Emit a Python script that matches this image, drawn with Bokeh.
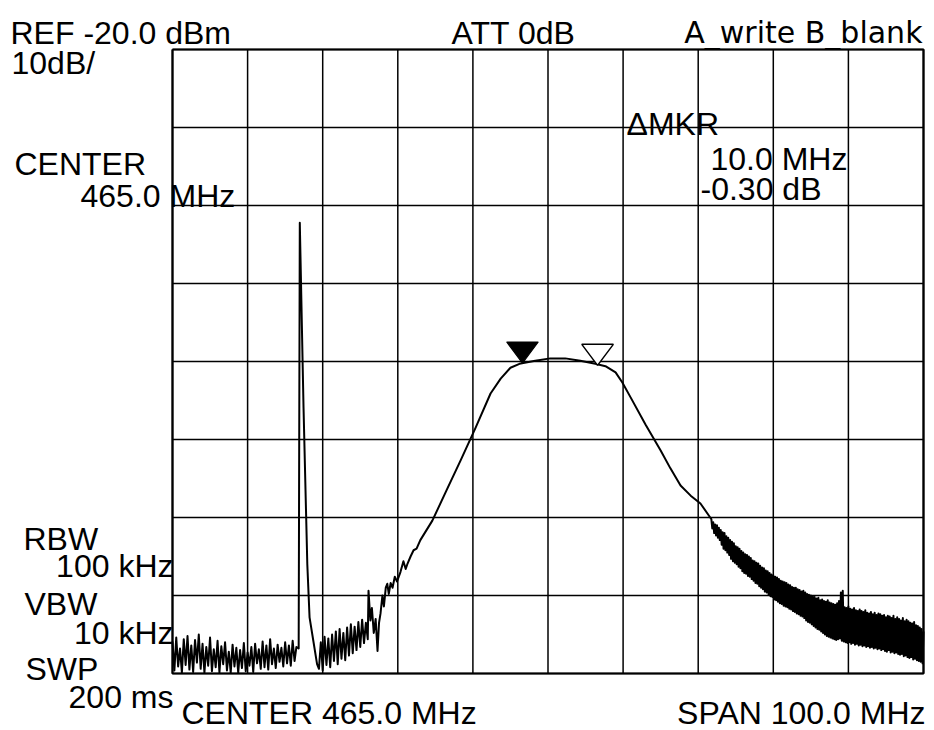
import numpy as np
from bokeh.plotting import figure
from bokeh.models import Label, Range1d
from bokeh.embed import file_html
from bokeh.resources import INLINE

# ---------------- axis settings (CENTER 465.0 MHz, SPAN 100.0 MHz, REF -20 dBm, 10 dB/div)
f_start, f_stop = 415.0, 515.0
ref_level, bottom_level = -20.0, -100.0
x_ticks = [415, 425, 435, 445, 455, 465, 475, 485, 495, 505, 515]
y_ticks = [-100, -90, -80, -70, -60, -50, -40, -30, -20]

# ---------------- trace data (MHz, dBm)
step = 0.25
noise_left_start = 415.0
noise_left = [
    -95.9, -99.6, -95.4, -99.1, -96.8, -99.9, -95.6, -98.9, -95.2, -99.5,
    -96.4, -99.8, -95.7, -98.6, -95.0, -99.4, -96.2, -99.9, -96.6, -99.0,
    -95.4, -99.7, -96.9, -99.2, -95.8, -99.9, -96.5, -98.8, -96.0, -99.6,
    -97.2, -99.9, -96.3, -99.1, -96.7, -99.9, -97.0, -99.3, -96.1, -99.7,
    -97.3, -99.0, -96.6, -99.8, -96.2, -98.7, -96.9, -99.4, -95.9, -99.2,
    -96.4, -99.5, -95.6, -98.8, -96.8, -99.3, -96.3, -98.5, -96.7, -99.1,
    -96.0, -98.7, -96.4, -99.0, -95.8, -98.4, -96.6,
]

spike_freq = [431.8, 431.95, 432.45, 432.95, 433.25, 433.75, 434.25]
spike_level = [-96.8, -42.2, -66.0, -86.0, -92.8, -95.8, -98.8]

noise_mid_start = 434.5
noise_mid = [
    -99.4, -96.0, -99.6, -95.3, -98.9, -95.5, -99.2, -95.0, -98.4, -94.6,
    -98.8, -94.3, -98.1, -94.8, -98.3, -94.1, -97.7, -93.7, -97.4, -94.0,
    -97.0, -93.4, -96.6, -93.1, -96.1, -93.5, -95.6,
]

filter_freq = [
    441.1, 441.35, 441.55, 441.8, 442.05, 442.3, 442.5, 442.7, 442.95, 443.15,
    443.4, 443.6, 443.8, 444.05, 444.3, 444.6, 444.9, 445.35, 445.75, 446.05,
    446.3, 446.7, 447.1, 447.5, 448.0, 449.6, 451.5, 453.35, 455.35, 457.35,
    458.7, 460.0, 461.2, 463.3, 465.3, 467.3, 469.3, 471.3, 472.65, 474.0,
    474.9, 476.0, 478.0, 480.0, 481.3, 482.65, 484.0, 485.3, 486.6,
]
filter_level = [
    -89.4, -93.2, -91.6, -94.8, -93.0, -97.1, -93.5, -92.3, -90.0, -91.4,
    -89.0, -88.5, -89.8, -88.4, -89.0, -87.6, -88.2, -87.0, -85.6, -86.6,
    -85.9, -85.0, -84.2, -84.0, -82.9, -80.4, -76.5, -72.7, -68.5, -64.1,
    -62.2, -60.8, -60.3, -59.9, -59.6, -59.6, -59.9, -60.3, -60.6, -61.4,
    -62.7, -64.6, -68.1, -71.4, -73.7, -75.9, -77.2, -78.2, -80.0,
]

step_fine = 0.125
noise_right_start = 486.75
noise_right = [
    -80.2, -81.4, -80.6, -82.0, -80.9, -82.3, -81.0, -82.6, -81.3, -82.9,
    -81.6, -83.5, -81.9, -84.0, -82.0, -84.2, -82.4, -84.5, -82.6, -84.8,
    -82.9, -85.3, -83.1, -85.6, -83.3, -85.8, -83.7, -86.0, -83.8, -86.3,
    -84.0, -86.5, -84.3, -86.9, -84.5, -87.1, -84.7, -87.2, -84.8, -87.5,
    -85.0, -87.6, -85.2, -87.9, -85.5, -88.1, -85.6, -88.4, -85.8, -88.5,
    -85.9, -88.8, -86.2, -89.0, -86.4, -89.2, -86.5, -89.5, -86.8, -89.6,
    -86.9, -89.9, -87.1, -90.1, -87.3, -90.2, -87.4, -90.5, -87.6, -90.6,
    -87.7, -90.8, -87.9, -91.0, -88.1, -91.1, -88.2, -91.3, -88.3, -91.4,
    -88.4, -91.5, -88.6, -91.7, -88.7, -91.8, -88.9, -92.0, -89.0, -92.1,
    -89.0, -92.3, -89.2, -92.4, -89.3, -92.6, -89.5, -92.7, -89.4, -92.9,
    -89.6, -93.2, -89.8, -93.4, -89.9, -93.5, -90.0, -93.7, -90.1, -93.9,
    -90.2, -94.1, -90.4, -94.3, -90.3, -94.4, -90.6, -94.6, -90.5, -94.8,
    -90.7, -95.0, -90.8, -95.2, -90.6, -95.3, -90.9, -95.4, -91.0, -95.5,
    -91.1, -95.6, -91.2, -95.7, -91.0, -95.6, -90.7, -95.5, -89.6, -95.8,
    -89.4, -95.9, -91.5, -96.0, -91.6, -96.1, -91.4, -96.0, -91.7, -96.2,
    -91.8, -96.1, -91.6, -96.3, -91.9, -96.2, -92.0, -96.4, -91.8, -96.3,
    -92.0, -96.5, -92.1, -96.4, -91.9, -96.6, -92.2, -96.5, -92.3, -96.7,
    -92.1, -96.6, -92.4, -96.8, -92.2, -96.7, -92.5, -96.9, -92.3, -96.8,
    -92.4, -97.0, -92.6, -96.9, -92.5, -97.1, -92.8, -97.2, -92.6, -97.0,
    -92.7, -97.3, -92.9, -97.2, -92.6, -97.4, -93.0, -97.3, -92.8, -97.5,
    -93.0, -97.6, -93.2, -97.5, -92.9, -97.8, -93.3, -97.7, -93.1, -97.9,
    -93.3, -98.0, -93.5, -97.9, -93.6, -98.2, -93.4, -98.1, -93.8, -98.3,
    -93.9, -98.4, -94.1, -98.5, -94.3, -98.7, -94.6,
]

# markers (MKR and delta MKR: 10.0 MHz, -0.30 dB)
mkr_freq = [461.6, 471.6]
mkr_level = [-60.2, -60.5]

# ---------------- assemble trace
def uniform(start, vals, st):
    return [start + st * i for i in range(len(vals))]

trace_f = (uniform(noise_left_start, noise_left, step) + spike_freq
           + uniform(noise_mid_start, noise_mid, step) + filter_freq
           + uniform(noise_right_start, noise_right, step_fine))
trace_l = noise_left + spike_level + noise_mid + filter_level + noise_right

# ---------------- geometry: the graticule occupies page px FX0..FX1 x FY0..FY1
W, H = 934, 730
FX0, FX1 = 172, 923
FY0, FY1 = 49, 673

def X(px):
    return f_start + (px - FX0) / (FX1 - FX0) * (f_stop - f_start)

def Y(py):
    return ref_level - (py - FY0) / (FY1 - FY0) * (ref_level - bottom_level)

p = figure(width=W, height=H, output_backend="svg", toolbar_location=None,
           x_range=Range1d(X(0), X(W)), y_range=Range1d(Y(H), Y(0)),
           min_border=0, background_fill_color="white", border_fill_color="white")
p.axis.visible = False
p.grid.visible = False
p.outline_line_color = None

# graticule drawn from the tick lists
p.multi_line(xs=[[t, t] for t in x_ticks], ys=[[bottom_level, ref_level]] * len(x_ticks),
             line_color="black", line_width=1.5)
p.multi_line(xs=[[f_start, f_stop]] * len(y_ticks), ys=[[t, t] for t in y_ticks],
             line_color="black", line_width=1.5)
p.multi_line(xs=[[f_start, f_stop, f_stop, f_start, f_start]],
             ys=[[ref_level, ref_level, bottom_level, bottom_level, ref_level]],
             line_color="black", line_width=2.2)

p.line(trace_f, trace_l, line_color="black", line_width=2.0, line_join="round")

# marker triangles (tip on the trace)
hw_mhz = 2.1
h_db = 2.7
xs = [[f - hw_mhz, f + hw_mhz, f] for f in mkr_freq]
ys = [[l + h_db, l + h_db, l] for l in mkr_level]
p.patches(xs=[xs[0]], ys=[ys[0]], fill_color="black", line_color="black", line_width=1.2)
p.patches(xs=[xs[1]], ys=[ys[1]], fill_color="white", line_color="black", line_width=1.5)

# ---------------- annotation texts
FONT = "Liberation Sans"
texts = [
    ("REF -20.0 dBm", 10, 32, "left", FONT, "32px"),
    ("ATT 0dB", 451, 32, "left", FONT, "32px"),
    ("A_write B_blank", 922, 32, "right", "DejaVu Sans", "30px"),
    ("10dB/", 11, 62, "left", FONT, "32px"),
    ("CENTER", 14, 163, "left", FONT, "32px"),
    ("465.0 MHz", 80, 195, "left", FONT, "32px"),
    ("\u0394MKR", 626, 123, "left", FONT, "32px"),
    ("10.0 MHz", 710, 158, "left", FONT, "32px"),
    ("-0.30 dB", 700, 188, "left", FONT, "32px"),
    ("RBW", 23, 538, "left", FONT, "32px"),
    ("100 kHz", 173, 565, "right", FONT, "32px"),
    ("VBW", 24, 603, "left", FONT, "32px"),
    ("10 kHz", 173, 632, "right", FONT, "32px"),
    ("SWP", 25, 668, "left", FONT, "32px"),
    ("200 ms", 173, 696, "right", FONT, "32px"),
    ("CENTER 465.0 MHz", 181, 712, "left", FONT, "32px"),
    ("SPAN 100.0 MHz", 925, 712, "right", FONT, "32px"),
]
for t, px, py, al, fnt, fs in texts:
    p.add_layout(Label(x=X(px), y=Y(py), text=t, text_align=al,
                       text_baseline="alphabetic", text_font=fnt,
                       text_font_size=fs, text_color="black"))

open("out.html", "w").write(file_html(p, INLINE))
